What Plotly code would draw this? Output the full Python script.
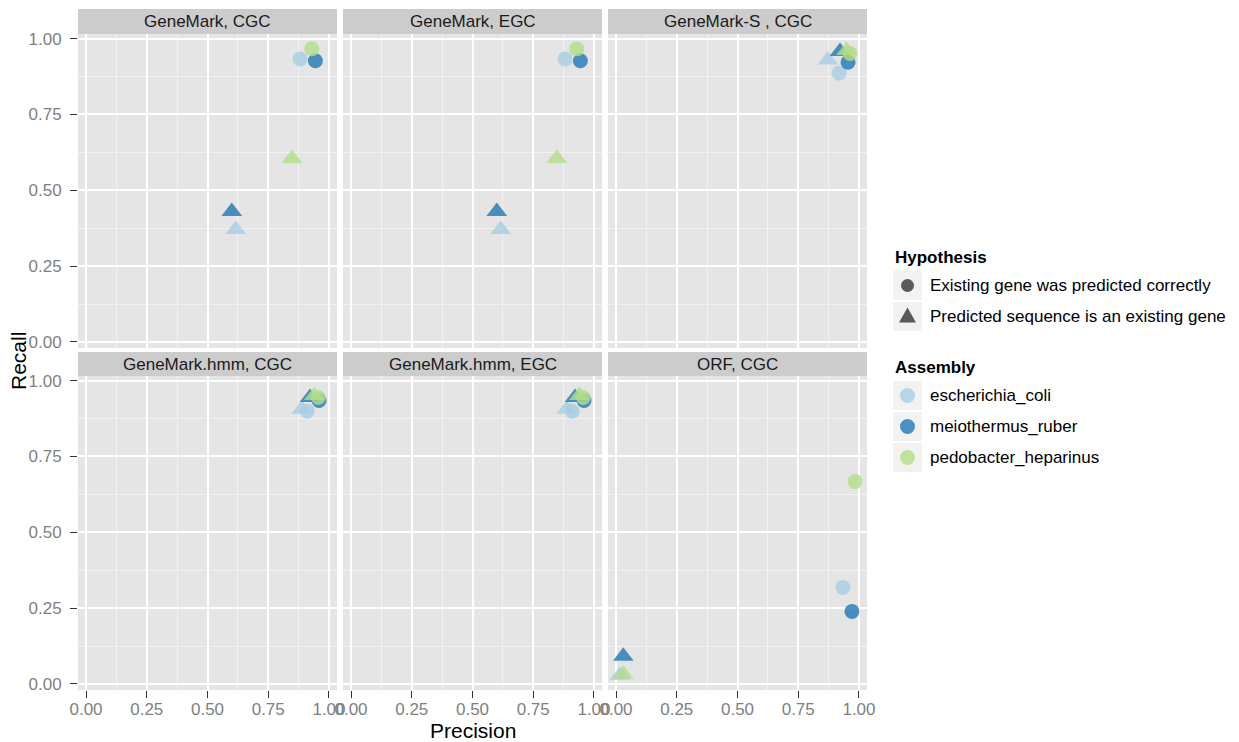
import plotly.graph_objects as go

W, H = 1239, 742

panels = ["GeneMark, CGC", "GeneMark, EGC", "GeneMark-S , CGC",
          "GeneMark.hmm, CGC", "GeneMark.hmm, EGC", "ORF, CGC"]
assemblies = ["escherichia_coli", "meiothermus_ruber", "pedobacter_heparinus"]
hypotheses = ["Existing gene was predicted correctly",
              "Predicted sequence is an existing gene"]
colors = ["#A6CEE3", "#1F78B4", "#B2DF8A"]

# values per panel, per assembly (escherichia_coli, meiothermus_ruber, pedobacter_heparinus)
correct_precision = [
    [0.881, 0.944, 0.929],
    [0.881, 0.944, 0.929],
    [0.918, 0.955, 0.963],
    [0.911, 0.959, 0.956],
    [0.911, 0.959, 0.956],
    [0.934, 0.971, 0.984],
]
correct_recall = [
    [0.933, 0.927, 0.966],
    [0.933, 0.927, 0.966],
    [0.886, 0.922, 0.951],
    [0.899, 0.934, 0.944],
    [0.899, 0.934, 0.944],
    [0.318, 0.239, 0.667],
]
existing_precision = [
    [0.616, 0.600, 0.847],
    [0.616, 0.600, 0.847],
    [0.872, 0.922, 0.949],
    [0.888, 0.922, 0.940],
    [0.888, 0.922, 0.940],
    [0.016, 0.030, 0.030],
]
existing_recall = [
    [0.371, 0.430, 0.605],
    [0.371, 0.430, 0.605],
    [0.929, 0.957, 0.961],
    [0.905, 0.944, 0.951],
    [0.905, 0.944, 0.951],
    [0.029, 0.091, 0.032],
]
tick_vals = [0.0, 0.25, 0.5, 0.75, 1.0]
tick_text = ["0.00", "0.25", "0.50", "0.75", "1.00"]

FONT = "Liberation Sans, Arial, Helvetica, sans-serif"

# geometry in pixels
col_px = [(78, 337), (343, 602), (608, 867)]
row_plot_px = [(34, 348), (376, 690)]
row_strip_px = [(9, 34), (352, 376)]
x_range = [-0.033, 1.033]
y_range = [-0.02, 1.015]


def px(x):
    return x / W


def py(y):
    return 1 - y / H


fig = go.Figure()
layout = dict(
    width=W, height=H, autosize=False,
    margin=dict(l=0, r=0, t=0, b=0, autoexpand=False),
    paper_bgcolor="white", plot_bgcolor="#E5E5E5",
    showlegend=False,
    font=dict(family=FONT),
)
shapes = []
annotations = []

for i, name in enumerate(panels):
    r, c = divmod(i, 3)
    n = i + 1
    xa = "x" if n == 1 else f"x{n}"
    ya = "y" if n == 1 else f"y{n}"
    x0, x1 = col_px[c]
    y0, y1 = row_plot_px[r]
    show_x = (r == 1)
    show_y = (c == 0)
    layout["xaxis" if n == 1 else f"xaxis{n}"] = dict(
        domain=[px(x0), px(x1)], anchor=ya, range=x_range, automargin=False,
        tickvals=tick_vals, ticktext=tick_text,
        showticklabels=show_x, ticks="outside" if show_x else "",
        ticklen=7, tickwidth=1.4, tickcolor="#333333", ticklabelstandoff=-3,
        tickfont=dict(size=17, color="#7F7F7F", family=FONT),
        showgrid=True, gridcolor="white", gridwidth=1.5,
        minor=dict(dtick=0.125, tick0=0, showgrid=True, gridcolor="#F2F2F2", gridwidth=0.7),
        zeroline=False, showline=False, fixedrange=True,
    )
    layout["yaxis" if n == 1 else f"yaxis{n}"] = dict(
        domain=[py(y1), py(y0)], anchor=xa, range=y_range, automargin=False,
        tickvals=tick_vals, ticktext=tick_text,
        showticklabels=show_y, ticks="outside" if show_y else "",
        ticklen=7, tickwidth=1.4, tickcolor="#333333", ticklabelstandoff=5,
        tickfont=dict(size=17, color="#7F7F7F", family=FONT),
        showgrid=True, gridcolor="white", gridwidth=1.5,
        minor=dict(dtick=0.125, tick0=0, showgrid=True, gridcolor="#F2F2F2", gridwidth=0.7),
        zeroline=False, showline=False, fixedrange=True,
    )
    # strip
    sy0, sy1 = row_strip_px[r]
    shapes.append(dict(type="rect", xref="paper", yref="paper",
                       x0=px(x0), x1=px(x1), y0=py(sy1), y1=py(sy0),
                       fillcolor="#CCCCCC", line=dict(width=0), layer="below"))
    annotations.append(dict(text=name, xref="paper", yref="paper",
                            x=px((x0 + x1) / 2), y=py((sy0 + sy1) / 2),
                            xanchor="center", yanchor="middle", showarrow=False,
                            font=dict(size=17, color="#1A1A1A", family=FONT)))
    # points
    for k, asm in enumerate(assemblies):
        fig.add_trace(go.Scatter(
            x=[correct_precision[i][k]], y=[correct_recall[i][k]],
            xaxis=xa, yaxis=ya, mode="markers", name=asm,
            marker=dict(symbol="circle", size=15, color=colors[k], opacity=0.8,
                        line=dict(width=0)),
            hovertemplate=f"{name}<br>{asm}<br>{hypotheses[0]}<br>P=%{{x}} R=%{{y}}<extra></extra>",
        ))
        fig.add_trace(go.Scatter(
            x=[existing_precision[i][k]], y=[existing_recall[i][k]],
            xaxis=xa, yaxis=ya, mode="markers", name=asm,
            marker=dict(symbol="triangle-up", size=18, color=colors[k], opacity=0.8,
                        line=dict(width=0)),
            hovertemplate=f"{name}<br>{asm}<br>{hypotheses[1]}<br>P=%{{x}} R=%{{y}}<extra></extra>",
        ))

# axis titles
annotations.append(dict(text="Precision", xref="paper", yref="paper",
                        x=px(472.5), y=py(730), xanchor="center", yanchor="middle",
                        showarrow=False, font=dict(size=21, color="black", family=FONT)))
annotations.append(dict(text="Recall", xref="paper", yref="paper",
                        x=px(18), y=py(361), xanchor="center", yanchor="middle",
                        textangle=-90, showarrow=False,
                        font=dict(size=21, color="black", family=FONT)))

# legend (drawn manually, ggplot style)
LX0, LX1 = 893, 922
LCX = (LX0 + LX1) / 2
TEXT_X = 927.5


def leg_title(text, y):
    annotations.append(dict(text=f"<b>{text}</b>", xref="paper", yref="paper",
                            x=px(LX0), y=py(y), xanchor="left", yanchor="middle",
                            showarrow=False, font=dict(size=17, color="black", family=FONT)))


def leg_box(y0, y1):
    shapes.append(dict(type="rect", xref="paper", yref="paper",
                       x0=px(LX0), x1=px(LX1), y0=py(y1), y1=py(y0),
                       fillcolor="#F2F2F2", line=dict(width=0)))


def leg_text(text, y):
    annotations.append(dict(text=text, xref="paper", yref="paper",
                            x=px(TEXT_X), y=py(y), xanchor="left", yanchor="middle",
                            showarrow=False, font=dict(size=17, color="black", family=FONT)))


def leg_circle(cy, d, color):
    shapes.append(dict(type="circle", xref="paper", yref="paper",
                       x0=px(LCX - d / 2), x1=px(LCX + d / 2),
                       y0=py(cy + d / 2), y1=py(cy - d / 2),
                       fillcolor=color, opacity=0.8, line=dict(width=0)))


def leg_triangle(cy, w, h, color):
    top = cy - h * 2 / 3
    bot = cy + h / 3
    path = (f"M {px(LCX - w / 2)},{py(bot)} L {px(LCX + w / 2)},{py(bot)} "
            f"L {px(LCX)},{py(top)} Z")
    shapes.append(dict(type="path", xref="paper", yref="paper", path=path,
                       fillcolor=color, opacity=0.8, line=dict(width=0)))


leg_title("Hypothesis", 257)
hyp_rows = [(271, 300), (302, 331)]
for (a, b), label in zip(hyp_rows, hypotheses):
    leg_box(a, b)
    leg_text(label, (a + b) / 2)
leg_circle(sum(hyp_rows[0]) / 2, 13, "#333333")
leg_triangle(sum(hyp_rows[1]) / 2 + 1, 17, 15, "#333333")

leg_title("Assembly", 367)
asm_rows = [(381, 410), (412, 441), (443, 472)]
for (a, b), label, col in zip(asm_rows, assemblies, colors):
    leg_box(a, b)
    leg_text(label, (a + b) / 2)
    leg_circle((a + b) / 2, 15, col)

layout["shapes"] = shapes
layout["annotations"] = annotations
fig.update_layout(**layout)

fig.write_html("out.html")
